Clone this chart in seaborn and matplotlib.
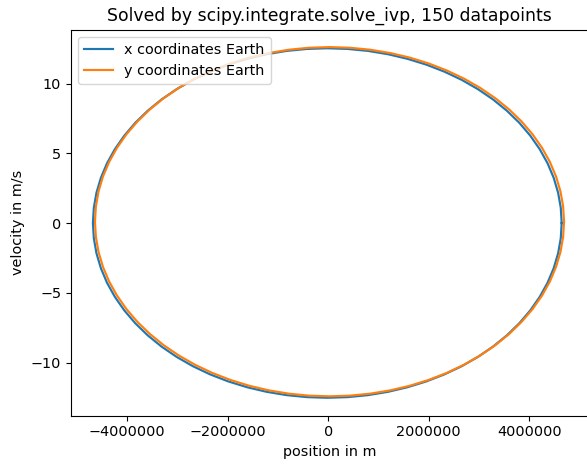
import matplotlib
matplotlib.use("Agg")
import matplotlib.pyplot as plt
import seaborn as sns
import pandas as pd

# x coordinates of Earth: position (millions of m) and velocity (m/s)
x_pos_mm = [4.644, 4.626, 4.573, 4.485, 4.363, 4.207, 4.019, 3.801, 3.553, 3.278,
            2.978, 2.655, 2.312, 1.951, 1.575, 1.187, 0.790, 0.387, -0.020,
            -0.427, -0.830, -1.227, -1.615, -1.991, -2.352, -2.695, -3.018, -3.318,
            -3.593, -3.841, -4.059, -4.247, -4.403, -4.525, -4.613, -4.666, -4.684,
            -4.666, -4.613, -4.525, -4.403, -4.247, -4.059, -3.841, -3.593, -3.318,
            -3.018, -2.695, -2.352, -1.991, -1.615, -1.227, -0.830, -0.427, -0.020,
            0.387, 0.790, 1.187, 1.575, 1.951, 2.312, 2.655, 2.978, 3.278,
            3.553, 3.801, 4.019, 4.207, 4.363, 4.485, 4.573, 4.626, 4.644]
x_vel = [0.0, 1.093, 2.176, 3.243, 4.285, 5.295, 6.265, 7.187, 8.054, 8.860,
         9.598, 10.265, 10.851, 11.356, 11.774, 12.103, 12.340, 12.482, 12.53,
         12.482, 12.340, 12.103, 11.774, 11.356, 10.851, 10.265, 9.598, 8.860,
         8.054, 7.187, 6.265, 5.295, 4.285, 3.243, 2.176, 1.093, 0.0,
         -1.093, -2.176, -3.243, -4.285, -5.295, -6.265, -7.187, -8.054, -8.860,
         -9.598, -10.265, -10.851, -11.356, -11.774, -12.103, -12.340, -12.482, -12.53,
         -12.482, -12.340, -12.103, -11.774, -11.356, -10.851, -10.265, -9.598, -8.860,
         -8.054, -7.187, -6.265, -5.295, -4.285, -3.243, -2.176, -1.093, 0.0]

# y coordinates of Earth
y_pos_mm = [4.691, 4.673, 4.620, 4.532, 4.410, 4.254, 4.066, 3.847, 3.599, 3.324,
            3.024, 2.701, 2.358, 1.996, 1.620, 1.232, 0.834, 0.431, 0.024,
            -0.383, -0.786, -1.184, -1.572, -1.948, -2.310, -2.653, -2.976, -3.276,
            -3.551, -3.799, -4.018, -4.206, -4.362, -4.484, -4.572, -4.625, -4.643,
            -4.625, -4.572, -4.484, -4.362, -4.206, -4.018, -3.799, -3.551, -3.276,
            -2.976, -2.653, -2.310, -1.948, -1.572, -1.184, -0.786, -0.383, 0.024,
            0.431, 0.834, 1.232, 1.620, 1.996, 2.358, 2.701, 3.024, 3.324,
            3.599, 3.847, 4.066, 4.254, 4.410, 4.532, 4.620, 4.673, 4.691]
y_vel = [0.095, 1.187, 2.269, 3.335, 4.377, 5.386, 6.355, 7.276, 8.143, 8.948,
         9.685, 10.351, 10.937, 11.442, 11.860, 12.188, 12.425, 12.567, 12.615,
         12.567, 12.425, 12.188, 11.860, 11.442, 10.937, 10.351, 9.685, 8.948,
         8.143, 7.276, 6.355, 5.386, 4.377, 3.335, 2.269, 1.187, 0.095,
         -0.997, -2.079, -3.145, -4.187, -5.196, -6.165, -7.086, -7.953, -8.758,
         -9.495, -10.161, -10.747, -11.252, -11.670, -11.998, -12.235, -12.377, -12.425,
         -12.377, -12.235, -11.998, -11.670, -11.252, -10.747, -10.161, -9.495, -8.758,
         -7.953, -7.086, -6.165, -5.196, -4.187, -3.145, -2.079, -0.997, 0.095]

labels = ["x coordinates Earth", "y coordinates Earth"]
title = "Solved by scipy.integrate.solve_ivp, 150 datapoints"

df_x = pd.DataFrame({"pos": [v * 1e6 for v in x_pos_mm], "vel": x_vel})
df_y = pd.DataFrame({"pos": [v * 1e6 for v in y_pos_mm], "vel": y_vel})

fs = 10.4
fig = plt.figure(figsize=(5.87, 4.66), dpi=100)
ax = fig.add_axes([71 / 587, (466 - 415.5) / 466, 516.6 / 587, 385.5 / 466])

sns.lineplot(data=df_x, x="pos", y="vel", sort=False, estimator=None,
             color="#1f77b4", linewidth=1.55, label=labels[0], ax=ax)
sns.lineplot(data=df_y, x="pos", y="vel", sort=False, estimator=None,
             color="#ff7f0e", linewidth=1.55, label=labels[1], ax=ax)

ax.set_xlim(-5.12e6, 5.16e6)
ax.set_ylim(-13.8, 13.84)
ax.set_xticks([-4000000, -2000000, 0, 2000000, 4000000])
ax.set_yticks([-10, -5, 0, 5, 10])
ax.ticklabel_format(style="plain", axis="x", useOffset=False)
ax.tick_params(labelsize=fs, length=3.6, width=0.8)
for s in ax.spines.values():
    s.set_linewidth(0.8)

ax.set_xlabel("position in m", fontsize=fs)
ax.set_ylabel("velocity in m/s", fontsize=fs)
ax.set_title(title, fontsize=12.4, pad=6.5)
ax.legend(loc="upper left", fontsize=fs)

fig.savefig("out.png", dpi=100)
